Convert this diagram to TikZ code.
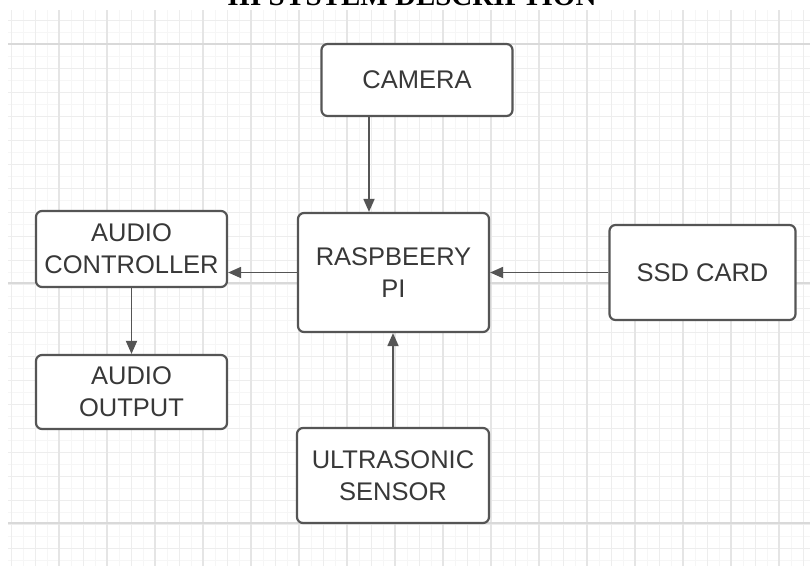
\documentclass[tikz,border=0pt]{standalone}
\usepackage{fontspec}
\setmainfont{Liberation Sans}
\newfontfamily\titlefont{Liberation Serif}
\usetikzlibrary{arrows.meta}
\definecolor{edgegray}{HTML}{555555}
\definecolor{txtgray}{HTML}{383838}
\begin{document}
\begin{tikzpicture}[x=1pt,y=-1pt,
  blockbox/.style={draw=edgegray,line width=2.2pt,rounded corners=6pt,fill=white,
    inner sep=0pt,align=center,text=txtgray,
    font=\fontsize{25.5}{32}\selectfont},
  conn/.style={draw=edgegray,line width=1.8pt,-{Triangle[length=13pt,width=11pt]}}]
\useasboundingbox (0,0) rectangle (810,566);
\begin{scope}
\clip (0,0) rectangle (810,566);
\fill[white] (0,0) rectangle (810,566);
% fine grid
\foreach \x in {11,23,...,810} \draw[gray!7,line width=0.8pt] (\x,10) -- (\x,566);
\foreach \y in {20,32,...,566} \draw[gray!7,line width=0.8pt] (8,\y) -- (810,\y);
% medium grid
\foreach \x in {11,35,...,810} \draw[gray!14,line width=1pt] (\x,10) -- (\x,566);
\foreach \y in {20,44,...,566} \draw[gray!14,line width=1pt] (8,\y) -- (810,\y);
\foreach \x in {59,107,...,810} \draw[gray!20,line width=1.2pt] (\x,10) -- (\x,566);
% major horizontal lines
\foreach \y in {44,283,523} \draw[gray!30,line width=1.4pt] (8,\y) -- (810,\y);
% title (cut off at top)
\node[anchor=base,inner sep=0pt,font=\titlefont\bfseries\fontsize{29}{32}\selectfont] (title) at (412,5) {III SYSTEM DESCRIPTION};
\end{scope}

\node[blockbox,minimum width=191pt,minimum height=72pt] (camera) at (417,80) {CAMERA};
\node[blockbox,minimum width=191pt,minimum height=119pt] (rpi) at (393.5,272.5) {RASPBEERY\\PI};
\node[blockbox,minimum width=186pt,minimum height=95pt] (ssd) at (702.5,272.5) {SSD CARD};
\node[blockbox,minimum width=191pt,minimum height=76pt] (actrl) at (131.5,249) {AUDIO\\CONTROLLER};
\node[blockbox,minimum width=191pt,minimum height=74pt] (aout) at (131.5,392) {AUDIO\\OUTPUT};
\node[blockbox,minimum width=192pt,minimum height=95pt] (us) at (393,475.5) {ULTRASONIC\\SENSOR};

\draw[conn] (camera.south -| 369,0) -- (rpi.north -| 369,0);
\draw[conn] (rpi.west) -- (actrl.east |- rpi.west);
\draw[conn] (ssd.west) -- (rpi.east);
\draw[conn] (actrl.south) -- (aout.north);
\draw[conn] (us.north) -- (us.north |- rpi.south);
\end{tikzpicture}
\end{document}
